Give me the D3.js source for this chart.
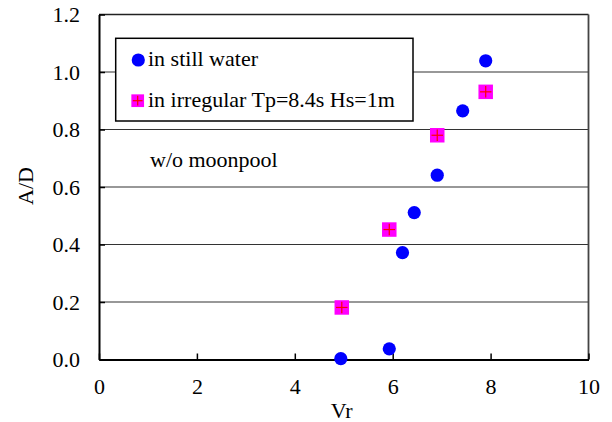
<!DOCTYPE html>
<html>
<head>
<meta charset="utf-8">
<script src="https://cdn.jsdelivr.net/npm/d3@7"></script>
<style>
  html, body { margin: 0; padding: 0; background: #fff; }
  svg { display: block; }
  svg text { font-family: 'Liberation Serif', 'Times New Roman', Times, 'DejaVu Serif', serif; fill: #000; }
</style>
</head>
<body>
<svg id="chart" width="612" height="422"></svg>
<script>
// ---- data ----
const stillVr = [4.94, 5.93, 6.20, 6.44, 6.91, 7.43, 7.90];
const stillAD = [0.003, 0.037, 0.372, 0.511, 0.641, 0.865, 1.039];
const irrVr = [4.96, 5.93, 6.91, 7.90];
const irrAD = [0.181, 0.452, 0.780, 0.931];
const xTicks = [0, 2, 4, 6, 8, 10];
const yTicks = [0, 0.2, 0.4, 0.6, 0.8, 1.0, 1.2];
const legendLabels = ["in still water", "in irregular Tp=8.4s Hs=1m"];
const annotation = "w/o moonpool";
const xTitle = "Vr";
const yTitle = "A/D";

// ---- layout ----
const L = 99, R = 588.5, T = 14.5, B = 359.5;
const FONT = "'Liberation Serif', 'Times New Roman', Times, 'DejaVu Serif', serif";
const svg = d3.select("#chart");
const x = d3.scaleLinear().domain([0, 10]).range([L, R]);
const y = d3.scaleLinear().domain([0, 1.2]).range([B, T]);
const FS = 22;

// gridlines
svg.append("g").selectAll("line").data(yTicks.filter(d => d > 0 && d < 1.2)).join("line")
  .attr("x1", L).attr("x2", R)
  .attr("y1", d => y(d)).attr("y2", d => y(d))
  .attr("stroke", "#333").attr("stroke-width", 1.2);

// frame
svg.append("line").attr("x1", L).attr("x2", R).attr("y1", T).attr("y2", T)
  .attr("stroke", "#222").attr("stroke-width", 1.5);
svg.append("line").attr("x1", R).attr("x2", R).attr("y1", T).attr("y2", B)
  .attr("stroke", "#444").attr("stroke-width", 1.8);

// axes
const xAxis = d3.axisBottom(x).tickValues(xTicks).tickSizeInner(-6).tickSizeOuter(0).tickPadding(0).tickFormat(d3.format("d"));
const gx = svg.append("g").attr("transform", `translate(0,${B})`).call(xAxis).attr("font-family", null).attr("font-size", null);
gx.select(".domain").attr("stroke", "#000").attr("stroke-width", 2);
gx.selectAll(".tick line").attr("stroke", "#000").attr("stroke-width", 1.5);
gx.selectAll(".tick text").attr("font-size", FS).style("font-family", FONT)
  .attr("y", 0).attr("dy", 0).attr("transform", "translate(0,34)").attr("fill", "#000");

const yAxis = d3.axisLeft(y).tickValues(yTicks).tickSizeInner(-6).tickSizeOuter(0).tickPadding(0).tickFormat(d3.format(".1f"));
const gy = svg.append("g").attr("transform", `translate(${L},0)`).call(yAxis).attr("font-family", null).attr("font-size", null);
gy.select(".domain").attr("stroke", "#000").attr("stroke-width", 2);
gy.selectAll(".tick line").attr("stroke", "#000").attr("stroke-width", 1.5);
gy.selectAll(".tick text").attr("font-size", FS).style("font-family", FONT)
  .attr("x", -19).attr("dy", "0.34em").attr("fill", "#000");

// titles
svg.append("text").attr("x", (L + R) / 2 - 2).attr("y", 418).attr("text-anchor", "middle")
  .attr("font-size", FS).style("font-family", FONT).text(xTitle);
svg.append("text").attr("transform", `translate(33,186) rotate(-90)`).attr("text-anchor", "middle")
  .attr("font-size", FS).style("font-family", FONT).text(yTitle);

// markers
function drawSquare(g, cx, cy, s) {
  g.append("rect").attr("x", cx - s / 2).attr("y", cy - s / 2).attr("width", s).attr("height", s)
    .attr("fill", "#ff00ff");
  const h = s / 2 - 1.5;
  g.append("line").attr("x1", cx - h).attr("x2", cx + h).attr("y1", cy).attr("y2", cy)
    .attr("stroke", "#ff0000").attr("stroke-width", 1.2);
  g.append("line").attr("x1", cx).attr("x2", cx).attr("y1", cy - h).attr("y2", cy + h)
    .attr("stroke", "#ff0000").attr("stroke-width", 1.2);
}

const gIrr = svg.append("g");
irrVr.forEach((v, i) => drawSquare(gIrr, x(v), y(irrAD[i]), 14.5));

svg.append("g").selectAll("circle").data(stillVr).join("circle")
  .attr("cx", d => x(d)).attr("cy", (d, i) => y(stillAD[i])).attr("r", 6.6)
  .attr("fill", "#0000ff");

// legend
const lg = svg.append("g");
lg.append("rect").attr("x", 115.7).attr("y", 38.3).attr("width", 297.3).attr("height", 82.7)
  .attr("fill", "#fff").attr("stroke", "#000").attr("stroke-width", 1.5);
lg.append("circle").attr("cx", 138.3).attr("cy", 60).attr("r", 6.6).attr("fill", "#0000ff");
drawSquare(lg, 137.7, 100.7, 12.7);
lg.append("text").attr("x", 148).attr("y", 66).attr("font-size", FS).style("font-family", FONT).text(legendLabels[0]);
lg.append("text").attr("x", 148).attr("y", 107).attr("font-size", FS).style("font-family", FONT).text(legendLabels[1]);

// annotation
svg.append("text").attr("x", 150).attr("y", 167).attr("font-size", FS).style("font-family", FONT).text(annotation);
</script>
</body>
</html>
